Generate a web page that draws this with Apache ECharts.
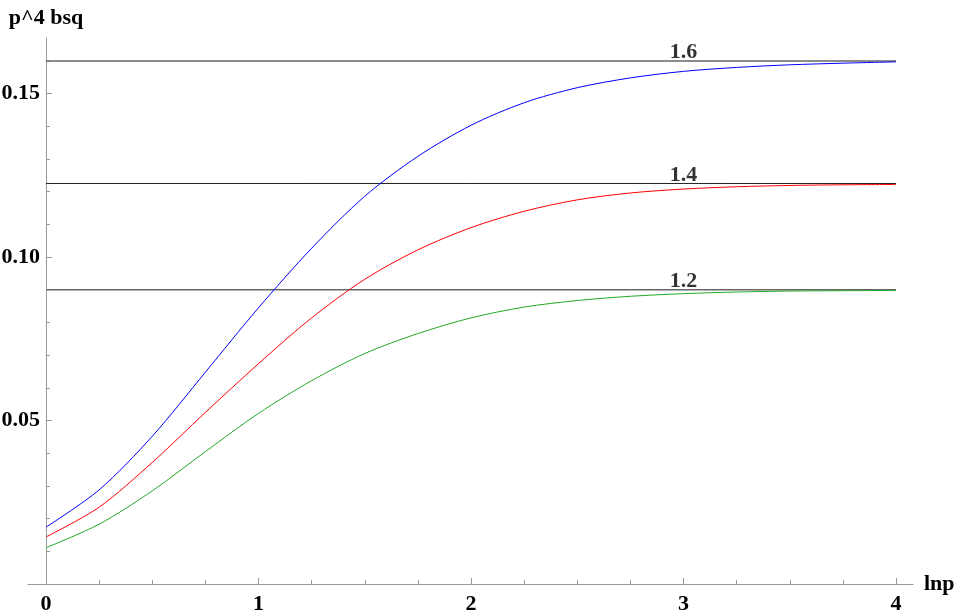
<!DOCTYPE html>
<html>
<head>
    <meta charset="utf-8">
    <title>p^4 bsq</title>
    <script src="https://cdn.jsdelivr.net/npm/echarts@6/dist/echarts.min.js"></script>
    <style>
        html, body { margin: 0; padding: 0; background: #fff; }
        #chart { width: 960px; height: 614px; }
    </style>
</head>
<body>
<div id="chart"></div>
<script>
    // lnp sample points
    const xs = [0, 0.25, 0.5, 0.75, 1, 1.25, 1.5, 1.75, 2, 2.25, 2.5, 2.75, 3, 3.25, 3.5, 3.75, 4];
    const blue = [0.0174, 0.0288, 0.0452, 0.0648, 0.0845, 0.1027, 0.1186, 0.1308, 0.1403, 0.1472, 0.1518, 0.1548, 0.1568, 0.1580, 0.1588, 0.1593, 0.1597];
    const red = [0.0144, 0.0235, 0.0372, 0.0525, 0.0674, 0.0814, 0.0932, 0.1022, 0.1090, 0.1140, 0.1175, 0.1196, 0.1208, 0.1215, 0.1219, 0.1221, 0.1222];
    const green = [0.0111, 0.0183, 0.0285, 0.0405, 0.0522, 0.0622, 0.0705, 0.0766, 0.0814, 0.0847, 0.0867, 0.0880, 0.0888, 0.0893, 0.0896, 0.0897, 0.0898];
    // asymptotes p^2/16 for p = 1.6, 1.4, 1.2
    const levelNames = ['1.6', '1.4', '1.2'];
    const levels = [0.16, 0.1225, 0.09];
    const levelLabelX = 3;

    const xMajor = [0, 1, 2, 3, 4];
    const xMinor = [0.25, 0.5, 0.75, 1.25, 1.5, 1.75, 2.25, 2.5, 2.75, 3.25, 3.5, 3.75];
    const yMajor = [0.05, 0.1, 0.15];
    const yMinor = [0.01, 0.02, 0.03, 0.04, 0.06, 0.07, 0.08, 0.09, 0.11, 0.12, 0.13, 0.14, 0.16];

    const font = '"Liberation Serif", "DejaVu Serif", serif';
    const axisGray = '#999';

    function pairs(ys) {
        return xs.map((x, i) => [x, ys[i]]);
    }

    let chart = echarts.init(document.getElementById('chart'));

    let levelSeries = levels.map((v, i) => ({
        name: 'p=' + levelNames[i],
        type: 'line',
        data: [[0, v], [4, v]],
        symbol: 'none',
        silent: true,
        lineStyle: {
            color: i === 1 ? '#222' : '#666',
            width: i === 1 ? 1 : 1.5
        },
        z: 1
    }));

    let curve = (name, ys, color) => ({
        name: name,
        type: 'line',
        data: pairs(ys),
        smooth: 0.3,
        symbol: 'none',
        lineStyle: { color: color, width: 1 },
        z: 3
    });

    let option = {
        animation: false,
        backgroundColor: '#fff',
        grid: { left: 28, right: 47, top: 38, bottom: 30, containLabel: false, outerBoundsMode: 'none' },
        xAxis: [
            {
                type: 'value',
                min: -0.085,
                max: 4.08,
                axisLine: { onZero: true, lineStyle: { color: axisGray, width: 1 } },
                axisTick: { customValues: xMajor, inside: true, length: 6, lineStyle: { color: axisGray } },
                axisLabel: {
                    customValues: xMajor,
                    formatter: v => String(v),
                    margin: 9,
                    color: '#000',
                    fontFamily: font,
                    fontWeight: 'bold',
                    fontSize: 22
                },
                splitLine: { show: false },
                name: 'lnp',
                nameLocation: 'end',
                nameGap: 11,
                nameTextStyle: { color: '#000', fontFamily: font, fontWeight: 'bold', fontSize: 22, padding: [0, 0, 8, 0] }
            },
            {
                type: 'value',
                position: 'bottom',
                min: -0.085,
                max: 4.08,
                axisLine: { show: false, onZero: true },
                axisTick: { customValues: xMinor, inside: true, length: 4, lineStyle: { color: axisGray } },
                axisLabel: { show: false },
                splitLine: { show: false }
            }
        ],
        yAxis: [
            {
                type: 'value',
                min: 0,
                max: 0.167,
                axisLine: { show: true, onZero: true, lineStyle: { color: axisGray, width: 1 } },
                axisTick: { customValues: yMajor, inside: true, length: 6, lineStyle: { color: axisGray } },
                axisLabel: {
                    customValues: yMajor,
                    formatter: v => v.toFixed(2),
                    // labels stay at the grid edge, pull them next to the zero line
                    margin: -12,
                    overflow: 'none',
                    color: '#000',
                    fontFamily: font,
                    fontWeight: 'bold',
                    fontSize: 22
                },
                splitLine: { show: false },
                name: 'p^4 bsq',
                nameLocation: 'end',
                nameGap: 9,
                nameTextStyle: { color: '#000', fontFamily: font, fontWeight: 'bold', fontSize: 22 }
            },
            {
                type: 'value',
                position: 'left',
                min: 0,
                max: 0.167,
                axisLine: { show: false, onZero: true },
                axisTick: { customValues: yMinor, inside: true, length: 4, lineStyle: { color: axisGray } },
                axisLabel: { show: false },
                splitLine: { show: false }
            }
        ],
        series: levelSeries.concat([
            {
                name: 'labels',
                type: 'scatter',
                data: levels.map(v => [levelLabelX, v]),
                symbolSize: 1,
                silent: true,
                itemStyle: { color: 'rgba(0,0,0,0)' },
                label: {
                    show: true,
                    position: 'top',
                    distance: -3,
                    formatter: p => levelNames[p.dataIndex],
                    color: '#000',
                    fontFamily: font,
                    fontWeight: 'bold',
                    fontSize: 22
                },
                z: 5
            },
            curve('p=1.6', blue, '#0000ff'),
            curve('p=1.4', red, '#ff0000'),
            curve('p=1.2', green, '#22aa22')
        ])
    };

    chart.setOption(option);
</script>
</body>
</html>
